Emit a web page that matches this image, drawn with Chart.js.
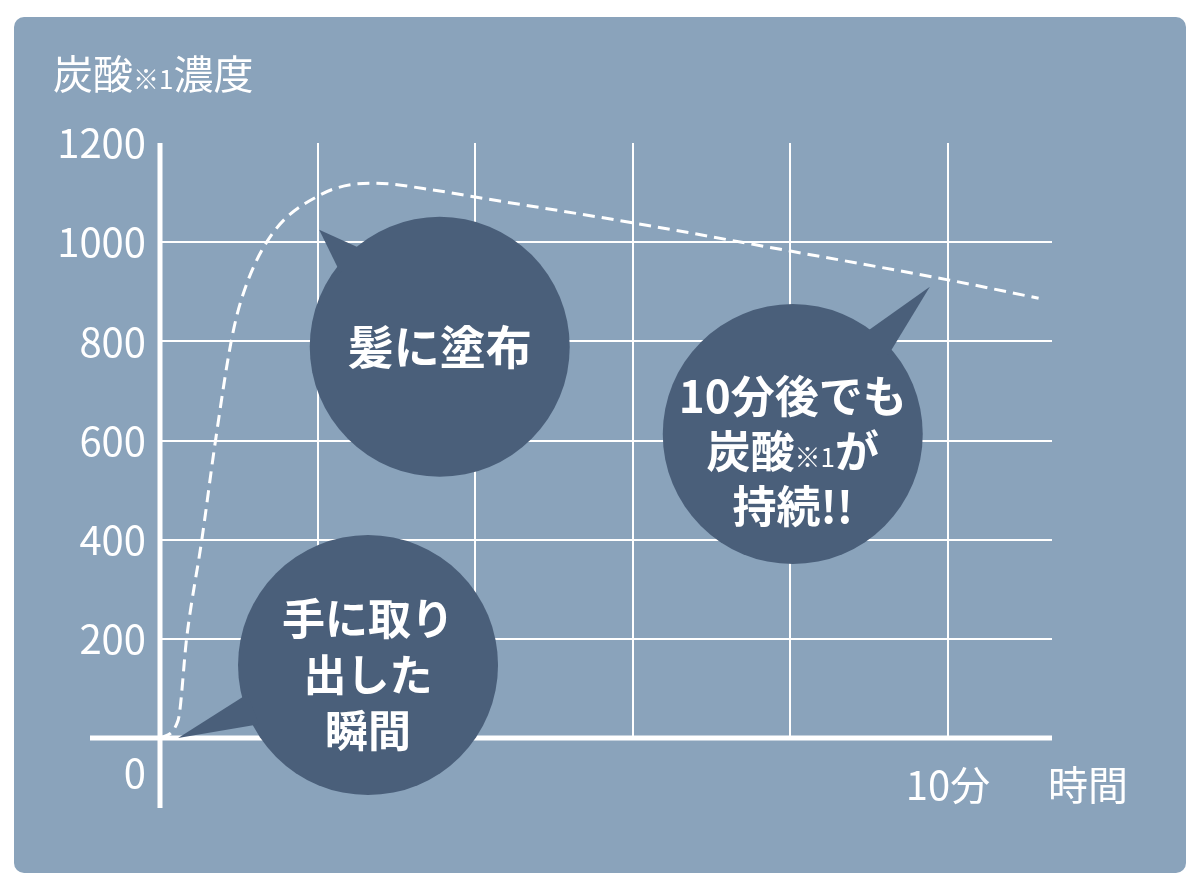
<!DOCTYPE html>
<html lang="ja">
<head>
<meta charset="utf-8">
<title>炭酸濃度</title>
<script src="https://cdn.jsdelivr.net/npm/chart.js@4.4.1/dist/chart.umd.min.js"></script>
<style>
  html, body { margin: 0; padding: 0; background: #ffffff; }
  #wrap { width: 1200px; height: 890px; }
</style>
</head>
<body>
<div id="wrap"><canvas id="chart" width="1200" height="890"></canvas></div>
<script>
// time in minutes, carbonic acid concentration
const timeMin = [0, 0.23, 0.34, 0.53, 0.70, 0.90, 1.03, 1.37, 2.03, 2.70, 3.55, 4.0, 6.0, 8.0, 10.0, 11.15]
const concentration = [0, 36, 204, 399, 595, 797, 883, 1004, 1095, 1119, 1103, 1091, 1039, 982, 924, 887]

const yTicks = [0, 200, 400, 600, 800, 1000, 1200]
const xGridTicks = [2, 4, 6, 8, 10]
const xLabelValue = 10
const xLabel = '10分'
const xTitle = '時間'

// callouts: centre and tail tip in data units
const bubbles = [
  { lines: [['髪に塗布']], cx: 3.55, cy: 789, tx: 2.02, ty: 1025, size: 46, dy: 0, lh: 56 },
  { lines: [['10分後でも'], ['炭酸', '※1', 'が'], ['持続!!']], cx: 8.03, cy: 613, tx: 9.77, ty: 910, size: 44, dy: 17, lh: 55 },
  { lines: [['手に取り'], ['出した'], ['瞬間']], cx: 2.64, cy: 147, tx: 0.23, ty: 0, size: 43, dy: 10, lh: 56 }
]

const FONT = '"Noto Sans CJK JP", "Noto Sans", sans-serif'
const PANEL = '#8aa3bb'
const BUBBLE = '#4a5f7a'

function roundedRect(ctx, x, y, w, h, r) {
  ctx.beginPath()
  ctx.moveTo(x + r, y)
  ctx.arcTo(x + w, y, x + w, y + h, r)
  ctx.arcTo(x + w, y + h, x, y + h, r)
  ctx.arcTo(x, y + h, x, y, r)
  ctx.arcTo(x, y, x + w, y, r)
  ctx.closePath()
}

const decor = {
  id: 'decor',
  beforeDraw(chart) {
    const ctx = chart.ctx
    ctx.save()
    ctx.fillStyle = PANEL
    roundedRect(ctx, 14, 17, 1172, 856, 10)
    ctx.fill()
    ctx.restore()
  },
  afterDatasetsDraw(chart) {
    const ctx = chart.ctx
    const xs = chart.scales.x
    const ys = chart.scales.y
    const x0 = xs.getPixelForValue(0)
    const y0 = ys.getPixelForValue(0)
    ctx.save()
    // axes
    ctx.strokeStyle = '#ffffff'
    ctx.lineWidth = 5
    ctx.beginPath()
    ctx.moveTo(x0, ys.getPixelForValue(1200))
    ctx.lineTo(x0, y0 + 70)
    ctx.moveTo(x0 - 70, y0)
    ctx.lineTo(xs.right, y0)
    ctx.stroke()

    // y labels
    ctx.fillStyle = '#ffffff'
    ctx.font = '40px ' + FONT
    ctx.textAlign = 'right'
    ctx.textBaseline = 'middle'
    yTicks.forEach(v => {
      const py = ys.getPixelForValue(v) + (v === 0 ? 35 : 0)
      ctx.fillText(String(v), x0 - 14, py)
    })
    // x labels
    ctx.textAlign = 'center'
    ctx.fillText(xLabel, xs.getPixelForValue(xLabelValue), y0 + 47)
    ctx.fillText(xTitle, xs.getPixelForValue(xLabelValue) + 140, y0 + 47)

    // y title
    ctx.textAlign = 'left'
    ctx.textBaseline = 'alphabetic'
    let tx = 53
    ctx.font = '40px ' + FONT
    ctx.fillText('炭酸', tx, 89)
    tx += ctx.measureText('炭酸').width
    ctx.font = '26px ' + FONT
    ctx.fillText('※1', tx, 89)
    tx += ctx.measureText('※1').width
    ctx.font = '40px ' + FONT
    ctx.fillText('濃度', tx, 89)

    // callouts
    bubbles.forEach(b => {
      const cx = xs.getPixelForValue(b.cx)
      const cy = ys.getPixelForValue(b.cy)
      const tipX = xs.getPixelForValue(b.tx)
      const tipY = ys.getPixelForValue(b.ty)
      const r = 130
      const a = Math.atan2(tipY - cy, tipX - cx)
      const w = 7.5 * Math.PI / 180
      ctx.fillStyle = BUBBLE
      ctx.beginPath()
      ctx.arc(cx, cy, r, 0, Math.PI * 2)
      ctx.fill()
      ctx.beginPath()
      ctx.moveTo(cx + Math.cos(a - w) * (r - 6), cy + Math.sin(a - w) * (r - 6))
      ctx.lineTo(tipX, tipY)
      ctx.lineTo(cx + Math.cos(a + w) * (r - 6), cy + Math.sin(a + w) * (r - 6))
      ctx.closePath()
      ctx.fill()

      ctx.fillStyle = '#ffffff'
      ctx.textBaseline = 'middle'
      const startY = cy + b.dy - (b.lines.length - 1) * b.lh / 2
      b.lines.forEach((parts, i) => {
        const fonts = parts.map(p => p.startsWith('※') ? '400 26px ' + FONT : '700 ' + b.size + 'px ' + FONT)
        let total = 0
        parts.forEach((p, j) => { ctx.font = fonts[j]; total += ctx.measureText(p).width })
        let px = cx - total / 2
        ctx.textAlign = 'left'
        parts.forEach((p, j) => {
          ctx.font = fonts[j]
          ctx.fillText(p, px, startY + i * b.lh + (p.startsWith('※') ? 6 : 0))
          px += ctx.measureText(p).width
        })
      })
    })
    ctx.restore()
  }
}

new Chart(document.getElementById('chart'), {
  type: 'line',
  data: {
    datasets: [{
      data: timeMin.map((t, i) => ({ x: t, y: concentration[i] })),
      borderColor: '#ffffff',
      borderWidth: 3,
      borderDash: [12, 7],
      pointRadius: 0,
      cubicInterpolationMode: 'monotone',
      fill: false
    }]
  },
  options: {
    responsive: false,
    animation: false,
    devicePixelRatio: 1,
    layout: { padding: { left: 160, right: 148, top: 143, bottom: 152 } },
    plugins: { legend: { display: false }, tooltip: { enabled: false } },
    scales: {
      x: {
        type: 'linear',
        min: 0,
        max: 11.32,
        afterBuildTicks: s => { s.ticks = xGridTicks.map(v => ({ value: v })) },
        ticks: { display: false },
        border: { display: false },
        grid: { color: '#ffffff', lineWidth: 2, drawTicks: false }
      },
      y: {
        type: 'linear',
        min: 0,
        max: 1200,
        afterBuildTicks: s => { s.ticks = yTicks.map(v => ({ value: v })) },
        ticks: { display: false },
        border: { display: false },
        grid: {
          color: c => (c.tick && (c.tick.value === 0 || c.tick.value === 1200)) ? 'rgba(0,0,0,0)' : '#ffffff',
          lineWidth: 2,
          drawTicks: false
        }
      }
    }
  },
  plugins: [decor]
})
</script>
</body>
</html>
